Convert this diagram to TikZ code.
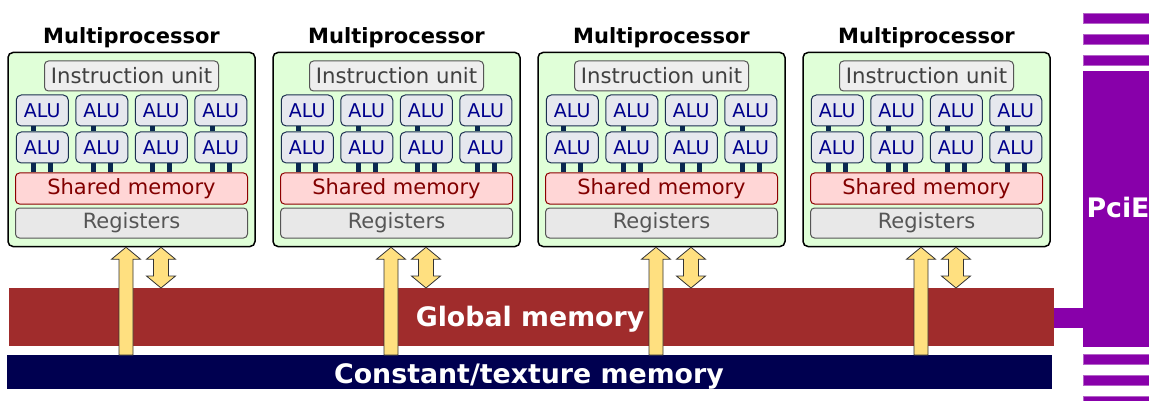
\documentclass[tikz,border=0pt]{standalone}
\usepackage{fontspec}
\setmainfont{DejaVu Sans}
\usetikzlibrary{calc}

\definecolor{mpfill}{RGB}{224,255,216}
\definecolor{iufill}{RGB}{238,238,238}
\definecolor{iudraw}{RGB}{85,85,85}
\definecolor{alufill}{RGB}{230,232,238}
\definecolor{aludraw}{RGB}{28,48,80}
\definecolor{alutext}{RGB}{0,0,140}
\definecolor{shfill}{RGB}{255,214,214}
\definecolor{shdraw}{RGB}{140,0,0}
\definecolor{shtext}{RGB}{130,0,0}
\definecolor{regfill}{RGB}{232,232,232}
\definecolor{wire}{RGB}{10,40,80}
\definecolor{arrowfill}{RGB}{255,224,128}
\definecolor{arrowdraw}{RGB}{51,51,51}
\definecolor{globalc}{RGB}{160,44,44}
\definecolor{constc}{RGB}{0,0,80}
\definecolor{pciec}{RGB}{136,0,170}
\definecolor{pcieedge}{RGB}{180,100,200}

\tikzset{
  mpbox/.style={draw=black, line width=1.5pt, fill=mpfill, rounded corners=5pt,
    minimum width=247pt, minimum height=194pt, inner sep=0pt},
  mptitle/.style={font=\bfseries\fontsize{21}{23}\selectfont, inner sep=0pt, anchor=base},
  iubox/.style={draw=iudraw, line width=1pt, fill=iufill, rounded corners=4pt,
    minimum width=174pt, minimum height=30pt, inner sep=0pt, text=black!75,
    font=\fontsize{21.2}{23}\selectfont},
  alubox/.style={draw=aludraw, line width=1pt, fill=alufill, rounded corners=5pt,
    minimum width=52pt, minimum height=31pt, inner sep=0pt, text=alutext,
    font=\fontsize{19}{21}\selectfont},
  shbox/.style={draw=shdraw, line width=1pt, fill=shfill, rounded corners=4pt,
    minimum width=232pt, minimum height=31pt, inner sep=0pt, text=shtext,
    font=\fontsize{21}{23}\selectfont},
  regbox/.style={draw=iudraw, line width=1pt, fill=regfill, rounded corners=4pt,
    minimum width=232pt, minimum height=30pt, inner sep=0pt, text=iudraw,
    font=\fontsize{21}{23}\selectfont},
  wireline/.style={draw=wire, line width=5pt},
  bigarrow/.style={draw=arrowdraw, line width=0.8pt, fill=arrowfill, line join=miter},
  membar/.style={inner sep=0pt, text=white, anchor=base, font=\bfseries\fontsize{26.8}{29}\selectfont},
  pciestripe/.style={fill=pciec, draw=pcieedge, line width=0.6pt},
}

\begin{document}
\begin{tikzpicture}[x=1pt, y=-1pt]
  \useasboundingbox (0,0) rectangle (1149,401);

  % memory bars
  \fill[globalc] (9,288) rectangle (1054,346);
  \node[membar] (gmem) at (530,326) {Global memory};
  \coordinate (gmemtop) at (530,288);
  \fill[constc] (7,355) rectangle (1052,389);
  \node[membar] (cmem) at (529,383) {Constant/texture memory};
  \coordinate (cmemtop) at (529,355);

  % PCIe bus
  \foreach \ya in {13,34,55,354,375,396}
    \draw[pciestripe] (1083,\ya) rectangle (1152,\ya+10);
  \fill[pciec] (1083,71) rectangle (1152,347);
  \fill[pciec] (1054,308) rectangle (1084,328);
  \node[membar] (pcie) at (1118,218) {PciE};

  % multiprocessors
  \foreach \i in {1,...,4} {
    \pgfmathsetmacro{\cx}{131.5+265*(\i-1)}
    \node[mpbox] (mp\i) at (\cx,149.5) {};
    \node[mptitle] (title\i) at (\cx,44) {Multiprocessor};
    \node[iubox] (iu\i) at (\cx,76) {Instruction unit};
    \foreach \j/\dx in {1/-89.25,2/-29.75,3/29.75,4/89.25} {
      \node[alubox] (alua\i\j) at (\cx+\dx,110.5) {ALU};
      \node[alubox] (alub\i\j) at (\cx+\dx,147.5) {ALU};
    }
    \node[shbox] (sh\i) at (\cx,188.5) {Shared memory};
    \node[regbox] (reg\i) at (\cx,223) {Registers};
    \foreach \j in {1,...,4} {
      \draw[wireline] ($(alua\i\j.south)+(-8.3,0)$) -- ($(alub\i\j.north)+(-8.3,0)$);
      \draw[wireline] ($(alub\i\j.south)+(-8.3,0)$) -- ($(alub\i\j.south |- sh\i.north)+(-8.3,0)$);
      \draw[wireline] ($(alub\i\j.south)+(8.3,0)$) -- ($(alub\i\j.south |- sh\i.north)+(8.3,0)$);
    }
    % constant memory feeding upwards
    \coordinate (uptop\i) at ($(mp\i.south)+(-5.5,0)$);
    \coordinate (upbot\i) at (uptop\i |- cmemtop);
    \draw[bigarrow] ($(upbot\i)+(-7,0)$) -- ($(uptop\i)+(-7,12)$) -- ($(uptop\i)+(-14.5,12)$)
      -- (uptop\i) -- ($(uptop\i)+(14.5,12)$) -- ($(uptop\i)+(7,12)$) -- ($(upbot\i)+(7,0)$) -- cycle;
    % global memory read/write
    \coordinate (dtop\i) at ($(mp\i.south)+(29.5,0)$);
    \coordinate (dbot\i) at (dtop\i |- gmemtop);
    \draw[bigarrow] (dtop\i) -- ($(dtop\i)+(14.5,12)$) -- ($(dtop\i)+(7.5,12)$)
      -- ($(dbot\i)+(7.5,-12)$) -- ($(dbot\i)+(14.5,-12)$) -- (dbot\i)
      -- ($(dbot\i)+(-14.5,-12)$) -- ($(dbot\i)+(-7.5,-12)$) -- ($(dtop\i)+(-7.5,12)$)
      -- ($(dtop\i)+(-14.5,12)$) -- cycle;
  }
\end{tikzpicture}
\end{document}
